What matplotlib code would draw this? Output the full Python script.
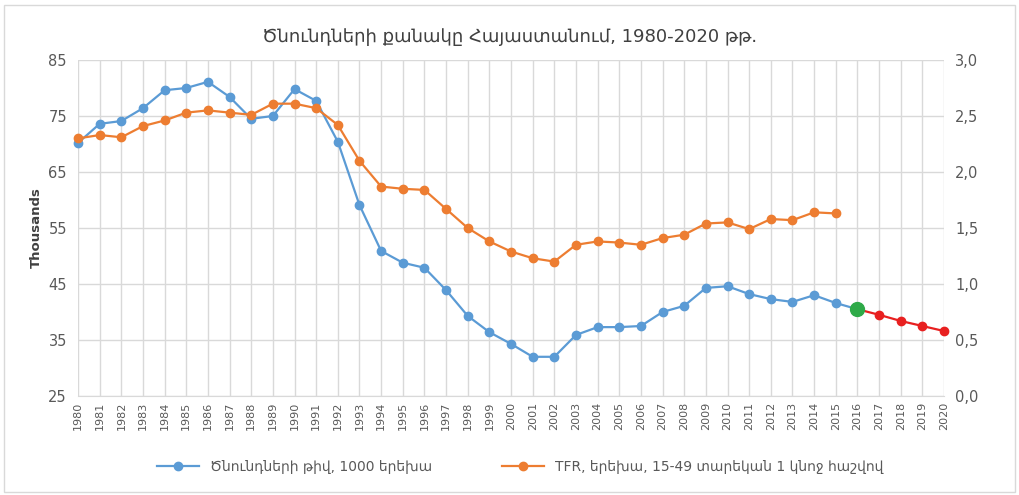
import matplotlib
matplotlib.use("Agg")
import matplotlib.pyplot as plt
from matplotlib.patches import Rectangle
from matplotlib.ticker import FuncFormatter

plt.rcParams['font.family'] = ['DejaVu Sans']

years = list(range(1980, 2021))

# births, thousands (1980-2016 observed, 2016-2020 forecast)
births = [70.2, 73.6, 74.1, 76.4, 79.6, 80.0, 81.1, 78.4, 74.5, 75.0,
          79.8, 77.7, 70.4, 59.1, 50.9, 48.8, 47.9, 43.9, 39.3, 36.4,
          34.3, 32.0, 32.0, 35.9, 37.3, 37.3, 37.5, 40.0, 41.1, 44.3,
          44.6, 43.2, 42.3, 41.8, 43.0, 41.6, 40.5]
forecast_years = [2016, 2017, 2018, 2019, 2020]
forecast = [40.5, 39.5, 38.4, 37.5, 36.6]

# total fertility rate 1980-2015
tfr_years = list(range(1980, 2016))
tfr = [2.30, 2.33, 2.31, 2.41, 2.46, 2.53, 2.55, 2.53, 2.51, 2.61,
       2.61, 2.57, 2.42, 2.10, 1.87, 1.85, 1.84, 1.67, 1.50, 1.38,
       1.29, 1.23, 1.20, 1.35, 1.38, 1.37, 1.35, 1.41, 1.44, 1.54,
       1.55, 1.49, 1.58, 1.57, 1.64, 1.63]

title = "Ծնունդների քանակը Հայաստանում, 1980-2020 թթ."
lab_births = "Ծնունդների թիվ, 1000 երեխա"
lab_tfr = "TFR, երեխա, 15-49 տարեկան 1 կնոջ հաշվով"

blue = "#5B9BD5"
orange = "#ED7D31"
grid_c = "#D9D9D9"
txt_c = "#595959"

fig = plt.figure(figsize=(10.2, 4.95), dpi=100)
ax = fig.add_axes([0.0765, 0.2, 0.849, 0.6788])
ax2 = ax.twinx()

ax.set_xlim(1980, 2020)
ax.set_ylim(25, 85)
ax2.set_ylim(0, 3.0)

ax.set_yticks(range(25, 86, 10))
ax2.set_yticks([i * 0.5 for i in range(7)])
ax2.yaxis.set_major_formatter(FuncFormatter(lambda v, p: f"{v:.1f}".replace(".", ",")))
ax.set_xticks(years)
ax.set_xticklabels([str(y) for y in years], rotation=90, fontsize=8, color=txt_c)

ax.grid(True, color=grid_c, linewidth=1)
ax.set_axisbelow(True)
for a in (ax, ax2):
    for s in a.spines.values():
        s.set_visible(False)
    a.tick_params(length=0, colors=txt_c, labelsize=10.5)
ax.tick_params(axis='x', labelsize=8, pad=4)
ax.tick_params(axis='y', pad=8)
ax2.tick_params(axis='y', pad=8)
ax.spines['bottom'].set_visible(True)
ax.spines['bottom'].set_color(grid_c)

l1, = ax.plot(years[:len(births)], births, color=blue, lw=1.6, marker='o',
              markersize=6, zorder=3, clip_on=False, label=lab_births)
ax.plot(forecast_years, forecast, color="#E82020", lw=1.6, marker='o',
        markersize=6, zorder=3, clip_on=False)
ax.plot([forecast_years[0]], [forecast[0]], 'o', color="#2EAA48",
        markersize=10, zorder=4, clip_on=False)
l2, = ax2.plot(tfr_years, tfr, color=orange, lw=1.6, marker='o',
               markersize=6, zorder=3, clip_on=False, label=lab_tfr)

ax.set_ylabel("Thousands", fontsize=9.5, color="#404040", fontweight='bold', labelpad=4)

fig.text(0.5, 0.925, title, ha='center', va='center', fontsize=13, color="#404040")

fig.legend(handles=[l1, l2], loc='center', bbox_to_anchor=(0.51, 0.056), ncol=2,
           frameon=False, fontsize=10, labelcolor=txt_c, columnspacing=5,
           handlelength=3)

fig.patches.append(Rectangle((0.004, 0.006), 0.991, 0.984, transform=fig.transFigure,
                             fill=False, edgecolor="#D9D9D9", linewidth=1))

fig.savefig("out.png", dpi=100)
